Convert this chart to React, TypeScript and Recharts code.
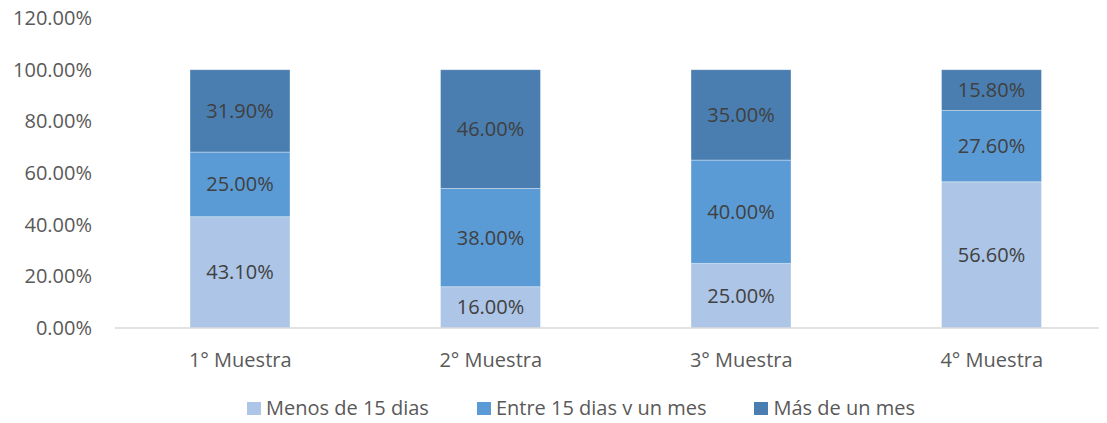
import { BarChart, Bar, XAxis, YAxis, LabelList } from 'recharts'

const categories = ['1° Muestra', '2° Muestra', '3° Muestra', '4° Muestra']
const menos15 = [43.1, 16, 25, 56.6]
const entre15Mes = [25, 38, 40, 27.6]
const masMes = [31.9, 46, 35, 15.8]
const yTicks = [0, 20, 40, 60, 80, 100, 120]

const series = [
  { key: 'menos', name: 'Menos de 15 dias', color: '#adc5e6' },
  { key: 'entre', name: 'Entre 15 dias y un mes', color: '#5b9bd5' },
  { key: 'mas', name: 'Más de un mes', color: '#4a7eb0' },
]

const data = categories.map((c, i) => ({
  name: c,
  menos: menos15[i],
  entre: entre15Mes[i],
  mas: masMes[i],
}))

const FONT = '"Open Sans", "Noto Sans", sans-serif'
const pct = (v: any) => `${Number(v).toFixed(2)}%`

/* legend drawn as html so the spacing follows the excel original */
const LegendBox = () => (
  <div style={{
    position: 'absolute', left: 0, top: 396, width: 1107, lineHeight: '24px',
    display: 'flex', alignItems: 'center', paddingLeft: 247, boxSizing: 'border-box',
    fontFamily: FONT, fontSize: 20, color: '#595959', whiteSpace: 'nowrap',
  }}>
    {series.map((s, i) => (
      <span key={s.key} style={{ display: 'flex', alignItems: 'center', marginRight: i < series.length - 1 ? 48 : 0 }}>
        <span style={{ display: 'inline-block', width: 14, height: 14, background: s.color, marginRight: 5, marginTop: 2 }} />
        {s.name}
      </span>
    ))}
  </div>
)

export default function App() {
  return (
    <div style={{ margin: -8, width: 1107, height: 423, overflow: 'hidden', background: '#fff', position: 'relative' }}>
      <BarChart width={1117} height={423} data={data} barSize={100}
        margin={{ top: 18, right: 0, bottom: 55, left: 0 }}>
        <XAxis dataKey="name" height={40} tickLine={false} tickSize={6} tickMargin={19}
          axisLine={{ stroke: '#d9d9d9', strokeWidth: 1.5 }}
          tick={{ fontSize: 20, fill: '#595959', fontFamily: FONT }} />
        <YAxis width={115} domain={[0, 120]} ticks={yTicks} axisLine={false} tickLine={false}
          tickSize={6} tickMargin={17} tickFormatter={pct}
          tick={{ fontSize: 20, fill: '#595959', fontFamily: FONT }} />
        {series.map(s => (
          <Bar key={s.key} dataKey={s.key} name={s.name} stackId="a" fill={s.color}
            stroke="#ffffff" strokeOpacity={0.35} strokeWidth={1} isAnimationActive={false}>
            <LabelList dataKey={s.key} position="center" formatter={pct}
              style={{ fontSize: 20, fill: '#404040', fontFamily: FONT }} />
          </Bar>
        ))}
      </BarChart>
      <LegendBox />
    </div>
  )
}
